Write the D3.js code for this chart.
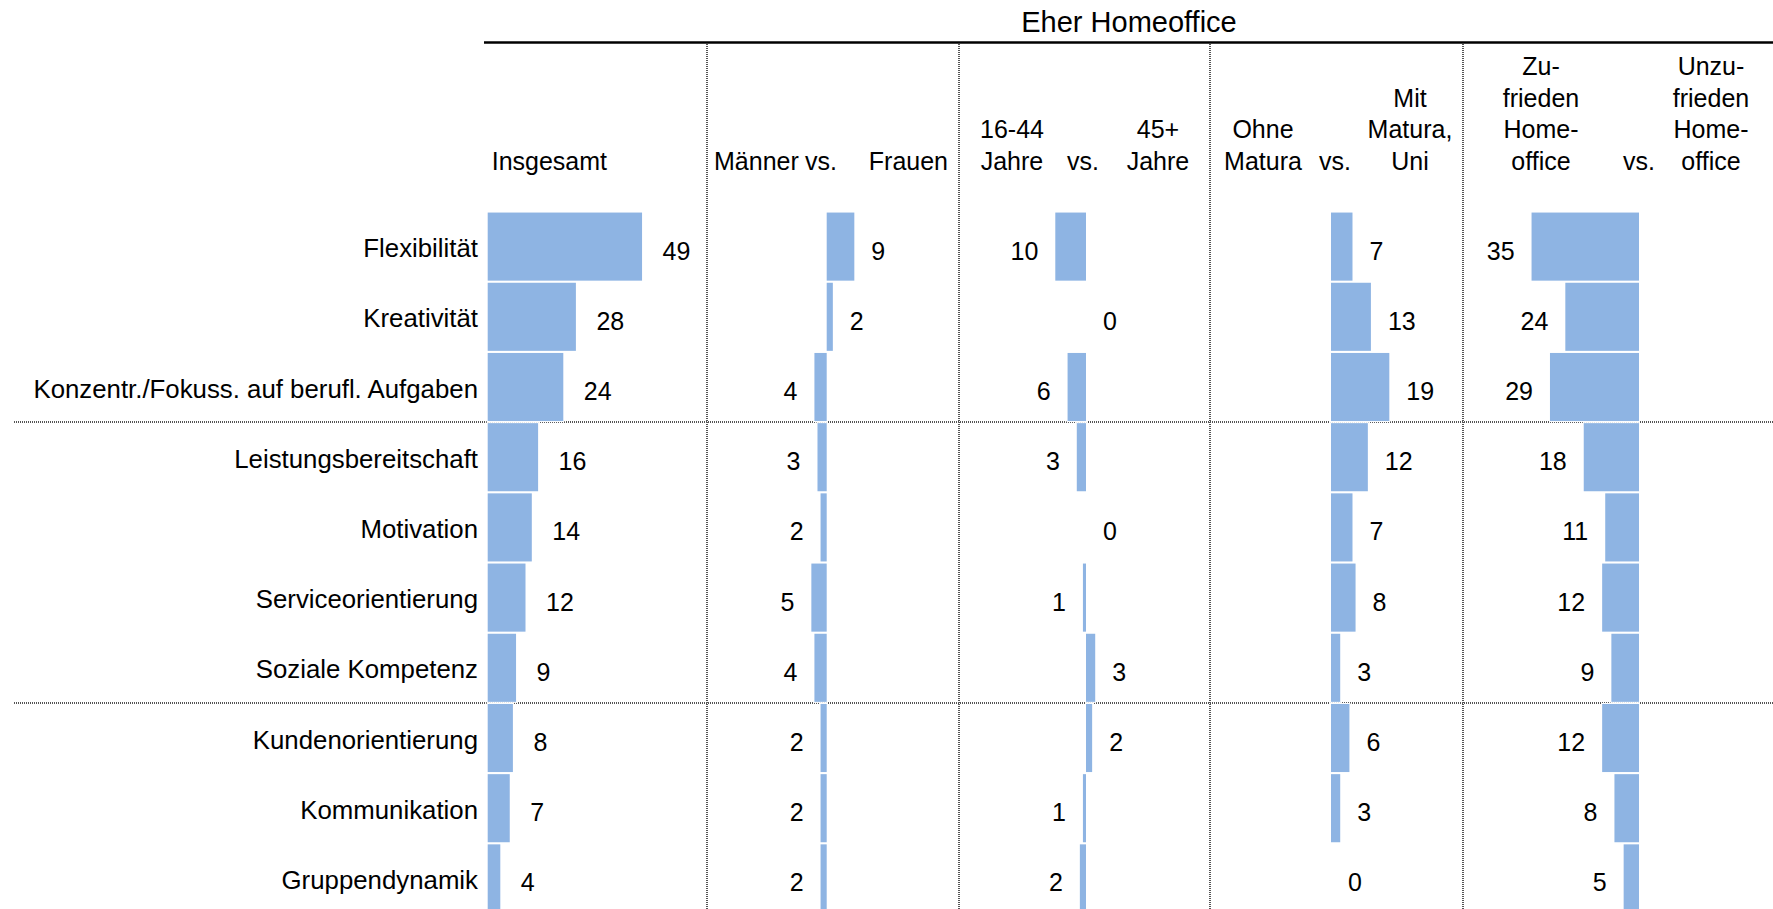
<!DOCTYPE html>
<html>
<head>
<meta charset="utf-8">
<script src="https://cdn.jsdelivr.net/npm/d3@7"></script>
<style>
    body { margin: 0; background: #fff; }
    svg { display: block; font-family: 'Liberation Sans', Arial, sans-serif; }
    text { fill: #000; }
</style>
</head>
<body>
<svg id="chart"></svg>
<script>
const categories = [
    'Flexibilität', 'Kreativität', 'Konzentr./Fokuss. auf berufl. Aufgaben',
    'Leistungsbereitschaft', 'Motivation', 'Serviceorientierung', 'Soziale Kompetenz',
    'Kundenorientierung', 'Kommunikation', 'Gruppendynamik'
];
// Insgesamt, in %
const insgesamt = [49, 28, 24, 16, 14, 12, 9, 8, 7, 4];
// differences: negative = left group higher, positive = right group higher
const maennerFrauen = [9, 2, -4, -3, -2, -5, -4, -2, -2, -2];
const alter = [-10, 0, -6, -3, 0, -1, 3, 2, -1, -2];
const matura = [7, 13, 19, 12, 7, 8, 3, 6, 3, 0];
const zufriedenheit = [-35, -24, -29, -18, -11, -12, -9, -12, -8, -5];

const title = 'Eher Homeoffice';
const headLeft = [['Männer'], ['16-44', 'Jahre'], ['Ohne', 'Matura'], ['Zu-', 'frieden', 'Home-', 'office']];
const headRight = [['Frauen'], ['45+', 'Jahre'], ['Mit', 'Matura,', 'Uni'], ['Unzu-', 'frieden', 'Home-', 'office']];
const groupBreaks = [3, 7];

const width = 1773, height = 909;
const fontSize = 25;
const barColor = '#8eb4e3';

const svg = d3.select('#chart')
    .attr('width', width)
    .attr('height', height);

const y = d3.scaleBand()
    .domain(categories)
    .range([211.5, 211.5 + 70.2 * categories.length])
    .paddingInner(0.03)
    .paddingOuter(0.015);

// one column per comparison; center = zero line of the diverging bars
const columns = [
    { data: maennerFrauen, center: 826.7, sep: 707, vs: 821, left: 714, right: 948, anchorL: 'start', anchorR: 'end' },
    { data: alter, center: 1086, sep: 959, vs: 1083, left: 1012, right: 1158, anchorL: 'middle', anchorR: 'middle' },
    { data: matura, center: 1331, sep: 1210, vs: 1335, left: 1263, right: 1410, anchorL: 'middle', anchorR: 'middle' },
    { data: zufriedenheit, center: 1639, sep: 1463, vs: 1639, left: 1541, right: 1711, anchorL: 'middle', anchorR: 'middle' }
];

const xTotal = d3.scaleLinear().domain([0, 1]).range([487.7, 487.7 + 3.15]);
const xDiff = d3.scaleLinear().domain([0, 1]).range([0, 3.07]);

// separators
const dotted = sel => sel.attr('stroke', '#555').attr('stroke-width', 2).attr('stroke-dasharray', '1 1');

svg.selectAll('.vsep')
    .data(columns)
    .enter().append('line')
    .attr('x1', d => d.sep).attr('x2', d => d.sep)
    .attr('y1', 44).attr('y2', height)
    .call(dotted);

svg.selectAll('.hsep')
    .data(groupBreaks)
    .enter().append('line')
    .attr('x1', 14).attr('x2', width)
    .attr('y1', d => y(categories[d]) - y.step() * y.paddingInner() / 2)
    .attr('y2', d => y(categories[d]) - y.step() * y.paddingInner() / 2)
    .call(dotted);

svg.append('line')
    .attr('x1', 484).attr('x2', width)
    .attr('y1', 42.5).attr('y2', 42.5)
    .attr('stroke', '#000')
    .attr('stroke-width', 2.5);

svg.append('text')
    .attr('x', 1129).attr('y', 32)
    .attr('text-anchor', 'middle')
    .style('font-size', '29px')
    .text(title);

// column headers
const lineH = 31.7, baseY = 170;
const stacked = (x, lines, anchor) => {
    const t = svg.append('text')
        .attr('text-anchor', anchor)
        .style('font-size', fontSize + 'px');
    lines.forEach((l, i) => {
        t.append('tspan')
            .attr('x', x)
            .attr('y', baseY - (lines.length - 1 - i) * lineH)
            .text(l);
    });
};

stacked(491.7, ['Insgesamt'], 'start');
columns.forEach((c, i) => {
    stacked(c.left, headLeft[i], c.anchorL);
    stacked(c.right, headRight[i], c.anchorR);
    stacked(c.vs, ['vs.'], 'middle');
});

// category labels
svg.selectAll('.cat')
    .data(categories)
    .enter().append('text')
    .attr('x', 478)
    .attr('y', d => y(d) + y.bandwidth() / 2 + 10.5)
    .attr('text-anchor', 'end')
    .style('font-size', '25.8px')
    .text(d => d);

// Insgesamt bars
svg.selectAll('.tot')
    .data(insgesamt)
    .enter().append('rect')
    .attr('x', xTotal(0))
    .attr('y', (d, i) => y(categories[i]))
    .attr('width', d => xTotal(d) - xTotal(0))
    .attr('height', y.bandwidth())
    .attr('fill', barColor)
    .attr('stroke', '#fff')
    .attr('stroke-width', 2)
    .attr('paint-order', 'stroke');

svg.selectAll('.totlab')
    .data(insgesamt)
    .enter().append('text')
    .attr('x', d => xTotal(d) + 20.5)
    .attr('y', (d, i) => y(categories[i]) + y.bandwidth() / 2 + 13)
    .style('font-size', fontSize + 'px')
    .text(d => d);

// diverging comparison bars
columns.forEach(c => {
    const g = svg.append('g');
    g.selectAll('rect')
        .data(c.data)
        .enter().append('rect')
        .attr('x', d => c.center + Math.min(0, xDiff(d)))
        .attr('y', (d, i) => y(categories[i]))
        .attr('width', d => Math.abs(xDiff(d)))
        .attr('height', y.bandwidth())
        .attr('fill', barColor)
        .attr('stroke', d => d === 0 ? 'none' : '#fff')
        .attr('stroke-width', 2)
        .attr('paint-order', 'stroke');

    g.selectAll('text')
        .data(c.data)
        .enter().append('text')
        .attr('x', d => d < 0 ? c.center + xDiff(d) - 17 : c.center + xDiff(d) + 17)
        .attr('y', (d, i) => y(categories[i]) + y.bandwidth() / 2 + 13)
        .attr('text-anchor', d => d < 0 ? 'end' : 'start')
        .style('font-size', fontSize + 'px')
        .text(d => Math.abs(d));
});
</script>
</body>
</html>
